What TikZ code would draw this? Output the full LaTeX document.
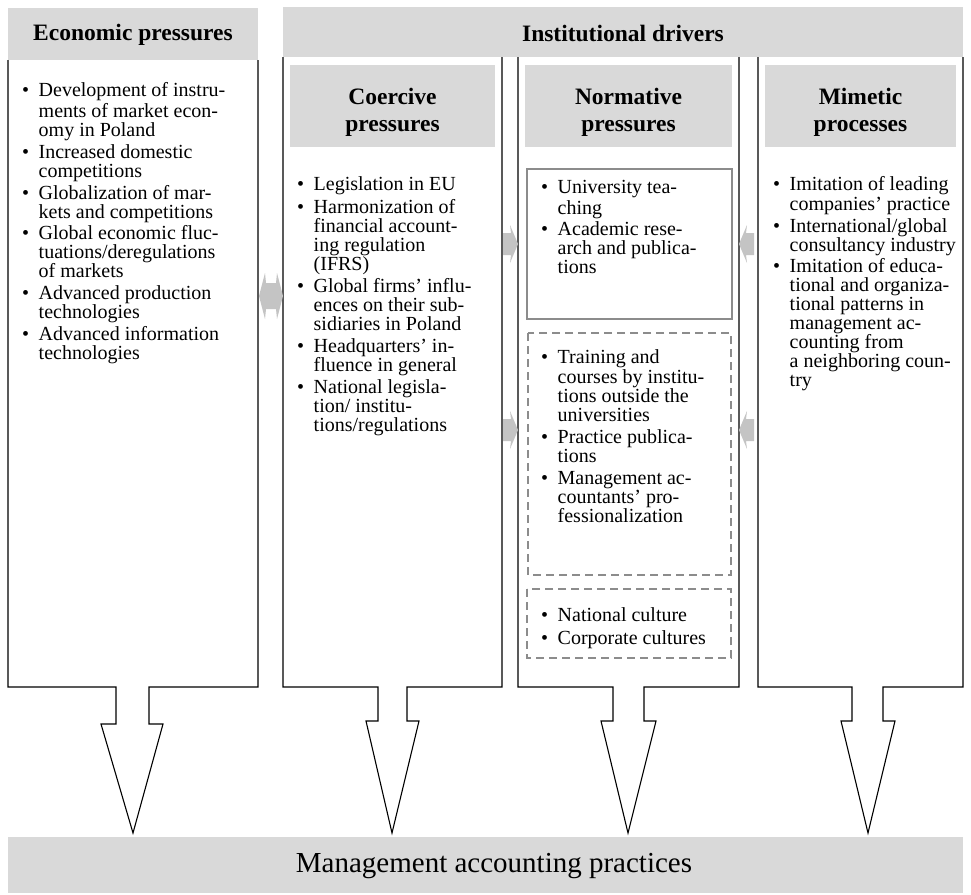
\documentclass[tikz,border=0pt]{standalone}
\usepackage{fontspec}
\setmainfont{Liberation Serif}
\definecolor{hdr}{RGB}{217,217,217}
\definecolor{arw}{RGB}{196,196,196}
\definecolor{bxg}{RGB}{140,140,140}
\newcommand{\bul}{\makebox[16.5pt][l]{\textbullet}}
\newcommand{\cnt}{\hspace*{16.5pt}}
\newcommand{\gap}{\\[2.8pt]}
\newcommand{\bodyfont}{\fontsize{20}{19}\selectfont}
\newcommand{\rarw}[2]{\fill[arw] (#1,#2) -- ++(-8,-19) -- ++(1,8) -- ++(-8,0) -- ++(0,22) -- ++(8,0) -- ++(-1,8) -- cycle;}
\newcommand{\larw}[2]{\fill[arw] (#1,#2) -- ++(8,-19) -- ++(-1,8) -- ++(8,0) -- ++(0,22) -- ++(-8,0) -- ++(1,8) -- cycle;}
\tikzset{
  hdrbox/.style={fill=hdr, draw=none},
  colline/.style={draw=black, line width=1.1pt, line join=miter},
  solidbox/.style={draw=bxg, line width=2pt},
  dashbox/.style={draw=bxg, line width=2pt, dash pattern=on 8pt off 5pt},
  bodytext/.style={anchor=north west, inner sep=0pt, align=left, font=\bodyfont},
  hdrtext/.style={inner sep=0pt, align=center, font=\fontsize{23.5}{27}\selectfont\bfseries},
}
\begin{document}
\begin{tikzpicture}[x=1pt,y=-1pt]
\useasboundingbox (0,0) rectangle (971,894);
\fill[white] (0,0) rectangle (971,894);

% column outlines with down arrows
\draw[colline] (8,60) -- (8,687) -- (116,687) -- (116,724) -- (101,724) -- (133,833) -- (163,724) -- (149,724) -- (149,687) -- (258,687) -- (258,60);
\draw[colline] (283,57) -- (283,687) -- (378,687) -- (378,721) -- (366,721) -- (392,833) -- (419,721) -- (407,721) -- (407,687) -- (502,687) -- (502,57);
\draw[colline] (518,57) -- (518,687) -- (613,687) -- (613,721) -- (601,721) -- (628,833) -- (656,721) -- (644,721) -- (644,687) -- (739,687) -- (739,57);
\draw[colline] (758,57) -- (758,687) -- (852,687) -- (852,721) -- (841,721) -- (868,833) -- (895,721) -- (883,721) -- (883,687) -- (963,687) -- (963,57);

% headers
\fill[hdrbox] (8,8) rectangle (258,60);
\node[hdrtext] (econ) at (133,35) {Economic pressures};
\fill[hdrbox] (283,7) rectangle (963,57);
\node[hdrtext] (inst) at (623,33) {Institutional drivers};

\fill[hdrbox] (290,65) rectangle (495,147);
\node[hdrtext] (coer) at (392.5,112) {Coercive\\pressures};
\fill[hdrbox] (525,65) rectangle (732,147);
\node[hdrtext] (norm) at (628.5,112) {Normative\\pressures};
\fill[hdrbox] (765,65) rectangle (956,147);
\node[hdrtext] (mim) at (860.5,112) {Mimetic\\processes};

% normative inner boxes
\draw[solidbox] (527,169) rectangle (732,319);
\draw[dashbox] (528,333) rectangle (731,575);
\draw[dashbox] (527,589) rectangle (731,658);

% gray arrows
\fill[arw] (259,296) -- (265,273) -- (266,283) -- (276,283) -- (277,273) -- (283,296) -- (277,319) -- (276,309) -- (266,309) -- (265,319) -- cycle;
\rarw{518}{244}
\rarw{518}{430}
\larw{739}{244}
\larw{739}{430}

% bottom
\fill[hdrbox] (8,837) rectangle (963,893);
\node[inner sep=0pt, font=\fontsize{29}{31}\selectfont] (map) at (494,866) {Management accounting practices};

% texts
\node[bodytext] (econtxt) at (22,82.5) {\strut\bul Development of instru-\\
\cnt ments of market econ-\\
\cnt omy in Poland\gap
\bul Increased domestic\\
\cnt competitions\gap
\bul Globalization of mar-\\
\cnt kets and competitions\gap
\bul Global economic fluc-\\
\cnt tuations/deregulations\\
\cnt of markets\gap
\bul Advanced production\\
\cnt technologies\gap
\bul Advanced information\\
\cnt technologies};

\node[bodytext] (coertxt) at (297,176) {\strut\bul Legislation in EU\gap
\bul Harmonization of\\
\cnt financial account-\\
\cnt ing regulation\\
\cnt (IFRS)\gap
\bul Global firms' influ-\\
\cnt ences on their sub-\\
\cnt sidiaries in Poland\gap
\bul Headquarters' in-\\
\cnt fluence in general\gap
\bul National legisla-\\
\cnt tion/ institu-\\
\cnt tions/regulations};

\node[bodytext] (normtxta) at (541,180) {\strut\bul University tea-\\
\cnt ching\gap
\bul Academic rese-\\
\cnt arch and publica-\\
\cnt tions};

\node[bodytext] (normtxtb) at (541,349) {\strut\bul Training and\\
\cnt courses by institu-\\
\cnt tions outside the\\
\cnt universities\gap
\bul Practice publica-\\
\cnt tions\gap
\bul Management ac-\\
\cnt countants' pro-\\
\cnt fessionalization};

\node[bodytext] (normtxtc) at (541,607.5) {\strut\bul National culture\gap
\bul Corporate cultures};

\node[bodytext] (mimtxt) at (773,176) {\strut\bul Imitation of leading\\
\cnt companies' practice\gap
\bul International/global\\
\cnt consultancy industry\gap
\bul Imitation of educa-\\
\cnt tional and organiza-\\
\cnt tional patterns in\\
\cnt management ac-\\
\cnt counting from\\
\cnt a neighboring coun-\\
\cnt try};
\end{tikzpicture}
\end{document}
